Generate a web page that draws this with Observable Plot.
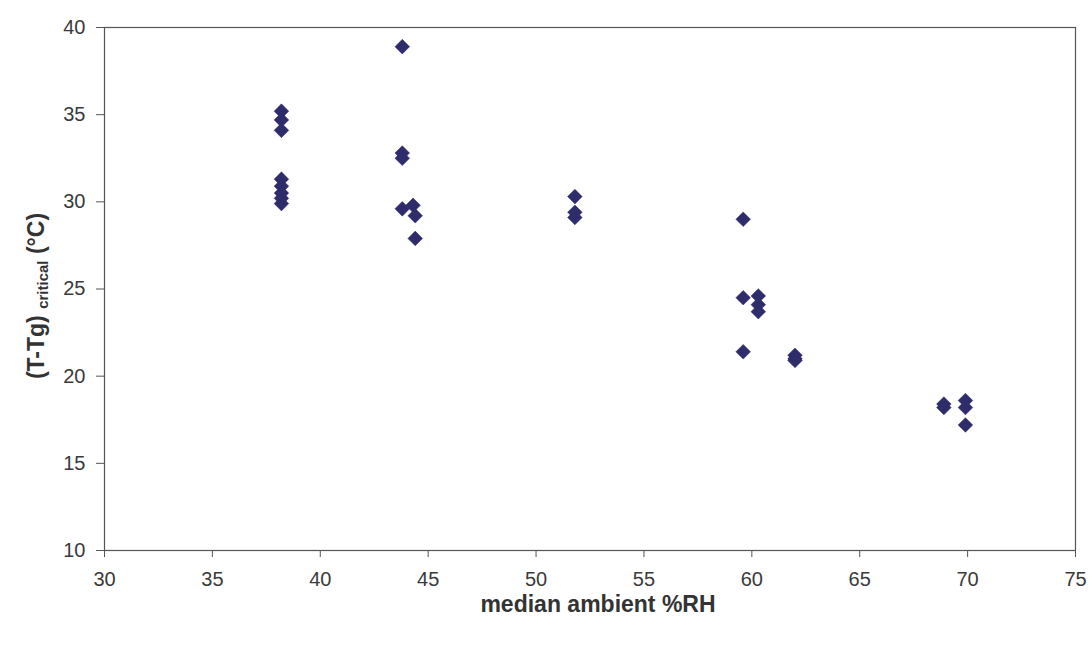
<!DOCTYPE html>
<html>
<head>
<meta charset="utf-8">
<script src="https://cdn.jsdelivr.net/npm/d3@7"></script>
<script src="https://cdn.jsdelivr.net/npm/@observablehq/plot@0.6"></script>
<style>
  html, body { margin: 0; padding: 0; background: #fff; }
  #chart { width: 1090px; height: 659px; }
</style>
</head>
<body>
<div id="chart"></div>
<script>
// Data
const rh = [
  38.2, 38.2, 38.2, 38.2, 38.2, 38.2, 38.2, 38.2,
  43.8, 43.8, 43.8, 43.8, 44.3, 44.4, 44.4,
  51.8, 51.8, 51.8,
  59.6, 59.6, 60.3, 60.3, 60.3, 59.6,
  62.0, 62.0, 62.0,
  68.9, 68.9, 69.9, 69.9, 69.9
];
const tCrit = [
  35.2, 34.7, 34.1, 31.3, 30.9, 30.5, 30.2, 29.9,
  38.9, 32.8, 32.5, 29.6, 29.8, 29.2, 27.9,
  30.3, 29.4, 29.1,
  29.0, 24.5, 24.6, 24.1, 23.7, 21.4,
  21.2, 21.0, 20.9,
  18.4, 18.2, 18.6, 18.2, 17.2
];
const xTicks = [30, 35, 40, 45, 50, 55, 60, 65, 70, 75];
const yTicks = [10, 15, 20, 25, 30, 35, 40];
const xTitle = "median ambient %RH";

const data = rh.map((x, i) => ({x, y: tCrit[i]}));

const font = "'Liberation Sans', Arial, sans-serif";

const chart = Plot.plot({
  width: 1090,
  height: 659,
  marginLeft: 104,
  marginRight: 15,
  marginTop: 27,
  marginBottom: 109,
  style: {fontFamily: font, fontSize: "20px", color: "#3a3a3a", background: "#fff"},
  x: {domain: [30, 75]},
  y: {domain: [10, 40]},
  marks: [
    Plot.frame({stroke: "#555", strokeWidth: 1.2}),
    Plot.axisX({ticks: xTicks, tickSize: 7, tickPadding: 14, label: null, fontSize: 20, stroke: "#555"}),
    Plot.axisY({ticks: yTicks, tickSize: 8, tickPadding: 11, label: null, fontSize: 20, stroke: "#555"}),
    Plot.dot(data, {x: "x", y: "y", symbol: "diamond2", r: 6.6, fill: "#2f2c6b", stroke: "#2f2c6b", strokeWidth: 0.5}),
    Plot.text([xTitle], {frameAnchor: "bottom", dx: 8, dy: 61, text: d => d, fontSize: 23, fontWeight: "bold", fill: "#333"})
  ]
});

// Rotated y-axis title with subscript "critical"
const svg = d3.select(chart);
const t = svg.append("text")
  .attr("transform", "translate(44,296) rotate(-90)")
  .attr("text-anchor", "middle")
  .attr("font-family", font)
  .attr("font-weight", "bold")
  .attr("fill", "#333")
  .attr("font-size", 23);
t.append("tspan").text("(T-Tg) ");
t.append("tspan").attr("font-size", 15).attr("dy", 4).text("critical");
t.append("tspan").attr("dy", -4).text(" (°C)");

document.getElementById("chart").appendChild(chart);
</script>
</body>
</html>
